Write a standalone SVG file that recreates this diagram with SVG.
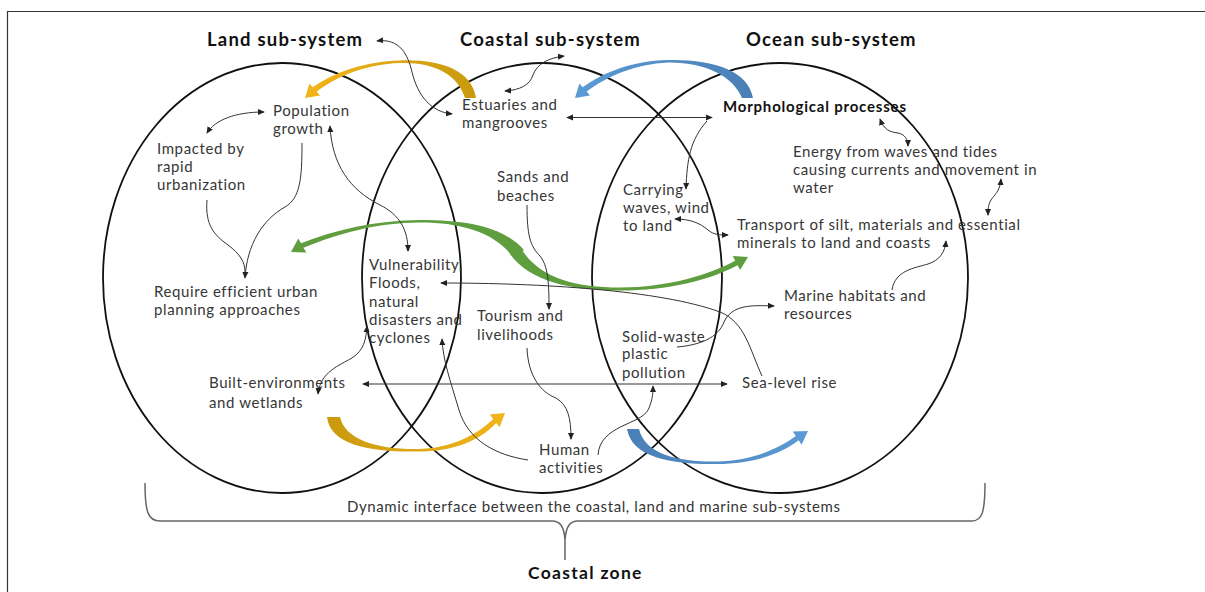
<svg xmlns="http://www.w3.org/2000/svg" width="1205" height="592" viewBox="0 0 1205 592">
<defs>
<style>
.t{font-family:Lato,"Liberation Sans",sans-serif;font-size:15px;letter-spacing:0.6px;fill:#363636}
.b{font-family:Lato,"Liberation Sans",sans-serif;font-weight:bold;fill:#111}
.ti{font-size:18.5px;letter-spacing:1.2px}
.c{fill:none;stroke:#111;stroke-width:1.8}
.k{fill:none;stroke:#333;stroke-width:1}
.ka{fill:none;stroke:#333;stroke-width:1;marker-end:url(#ah)}
.kb{fill:none;stroke:#333;stroke-width:1;marker-start:url(#ah);marker-end:url(#ah)}
</style>
<marker id="ah" viewBox="0 0 8 8" refX="7" refY="4" markerWidth="7" markerHeight="7" markerUnits="userSpaceOnUse" orient="auto-start-reverse"><path d="M0,0.5 L8,4 L0,7.5 z" fill="#222"/></marker>
<linearGradient id="gGold" x1="0" y1="0" x2="1" y2="0"><stop offset="0" stop-color="#F2B51A"/><stop offset="1" stop-color="#C99A0E"/></linearGradient>
<linearGradient id="gGold2" x1="0" y1="0" x2="1" y2="0"><stop offset="0" stop-color="#C99A0E"/><stop offset="1" stop-color="#F2B51A"/></linearGradient>
<linearGradient id="gBlue" x1="0" y1="0" x2="1" y2="0"><stop offset="0" stop-color="#5B9BD5"/><stop offset="1" stop-color="#4A7FB5"/></linearGradient>
<linearGradient id="gBlue2" x1="0" y1="0" x2="1" y2="0"><stop offset="0" stop-color="#4A7FB5"/><stop offset="1" stop-color="#5B9BD5"/></linearGradient>
</defs>
<rect width="1205" height="592" fill="#fff"/>
<path d="M7.5,592 V11.5 H1205" fill="none" stroke="#333" stroke-width="1.2"/>

<g id="circles">
<ellipse id="land-circle" class="c" cx="282" cy="278" rx="179" ry="215"/>
<ellipse id="coastal-circle" class="c" cx="542" cy="278" rx="180" ry="215"/>
<ellipse id="ocean-circle" class="c" cx="780" cy="278" rx="188" ry="215"/>
</g>

<g id="flow-arrows">
<path id="gold-top" fill="url(#gGold)" d="M476,98 C472,70 440,59 400,60.5 C365,61.5 335,72 312.7,87.2 L309.4,83.4 L305,98 L320,95.4 L316.7,91.6 C337,76 367,64 400,63 C435,62 458,75 465,98 Z"/>
<path id="blue-top" fill="url(#gBlue)" d="M753,98 C748,70 712,59 668,60 C632,61 604,72 582.7,87.2 L579.4,83.4 L575,98 L590,95.4 L586.7,91.6 C607,76 636,64 668,62.5 C705,62 733,76 742,98 Z"/>
<path id="green-left" fill="#5E9E3E" d="M524,250 C505,228 470,220 420,220 C375,220.5 335,230 301,243.3 L298.3,238.5 L291,252 L306.3,252.5 L303.5,247.7 C337,234 377,222.5 420,222.5 C462,222.5 495,233 512,256 Z"/>
<path id="green-right" fill="#5E9E3E" d="M510,254 C530,282 572,290.5 620,290.5 C668,290.5 710,280 737.6,265.2 L740.1,270.1 L748,257 L732.7,255.9 L735.2,260.8 C708,275 668,287.5 620,287.5 C575,287.5 540,278 522,250 Z"/>
<path id="gold-bottom" fill="url(#gGold2)" d="M327,417 C330,445 370,452 417,451.5 C455,451.5 480,440 496.2,422.9 L499.6,427.2 L505,413 L489.8,414.6 L493.2,418.9 C478,434 452,448.5 417,449 C378,449.5 345,440 340,417 Z"/>
<path id="blue-bottom" fill="url(#gBlue2)" d="M627,429 C632,458 672,464.5 717,464 C755,463.5 783,453 798.6,440.3 L801.6,444.8 L808,431 L792.8,431.6 L795.8,436.1 C780,448 752,461 717,461.5 C680,462 645,455 639,429 Z"/>
</g>

<g id="connectors">
<path class="kb" d="M377,41 C400,38 408,55 412,72 C418,97 432,112 452,114"/>
<path class="kb" d="M505,91 C520,90 530,85 533,75 C537,64 548,58 564,56"/>
<path class="kb" d="M207,133 C215,120 235,112 264,112"/>
<path class="kb" d="M330,126 C332,165 350,190 380,205 C400,215 408,230 408,251"/>
<path class="ka" d="M302,143 C302,180 300,198 285,207 C262,220 247,245 245,278"/>
<path class="k" d="M207,200 C205,225 214,235 228,245 C240,254 245,262 245,272"/>
<path class="kb" d="M318,394 C320,372 340,365 352,358 C364,350 366,340 367,326"/>
<path class="kb" d="M363,384 H727"/>
<path class="kb" d="M567,117.5 H712"/>
<path class="ka" d="M707,121 C690,140 687,160 686,189"/>
<path class="kb" d="M675,219 C690,219 700,223 708,230 C714,235 720,235 728,235"/>
<path class="kb" d="M880,119 C884,130 890,132 898,133 C905,134 908,140 908,146"/>
<path class="kb" d="M1001,179 C1000,192 994,195 991,200 C988,205 988,210 988,215"/>
<path class="ka" d="M892,290 C895,270 915,268 928,264 C940,260 945,252 946,241"/>
<path class="ka" d="M677,347 C700,345 718,338 724,322 C732,305 750,305 774,306"/>
<path class="ka" d="M762,376 C750,350 745,322 720,312 C660,290 540,283 441,283"/>
<path class="ka" d="M527,205 C527,235 530,246 540,256 C548,266 549,282 549,309"/>
<path class="ka" d="M527,348 C528,375 540,392 556,398 C568,405 571,418 571,439"/>
<path class="ka" d="M598,455 C600,425 640,425 648,410 C652,402 653,395 653,386"/>
<path class="ka" d="M528,460 C495,455 468,440 459,410 C450,380 443,360 442,339"/>
<path id="brace" fill="none" stroke="#666" stroke-width="1.5" d="M145,483 C145,512 148,521 160,521 L552,521 C560,521 564,526 565,540 L565,560 M565,540 C566,526 570,521 578,521 L972,521 C982,521 985,512 985,483"/>
</g>

<g id="titles">
<text id="land-title" class="b ti" x="207" y="46">Land sub-system</text>
<text id="coastal-title" class="b ti" x="460" y="46">Coastal sub-system</text>
<text id="ocean-title" class="b ti" x="746" y="46">Ocean sub-system</text>
<text id="coastal-zone" class="b" x="528" y="579" font-size="17.5" letter-spacing="1.3">Coastal zone</text>
</g>

<g id="n-population"><text class="t" x="273" y="116">Population</text><text class="t" x="273" y="134">growth</text></g>
<g id="n-impacted"><text class="t" x="157" y="154">Impacted by</text><text class="t" x="157" y="172">rapid</text><text class="t" x="157" y="190">urbanization</text></g>
<g id="n-require"><text class="t" x="154" y="297">Require efficient urban</text><text class="t" x="154" y="315">planning approaches</text></g>
<g id="n-built"><text class="t" x="209" y="388">Built-environments</text><text class="t" x="209" y="408">and wetlands</text></g>
<g id="n-estuaries"><text class="t" x="462" y="110">Estuaries and</text><text class="t" x="462" y="128">mangrooves</text></g>
<g id="n-sands"><text class="t" x="497" y="182">Sands and</text><text class="t" x="497" y="201">beaches</text></g>
<g id="n-vulnerability"><text class="t" x="369" y="270">Vulnerability,</text><text class="t" x="369" y="288">Floods,</text><text class="t" x="369" y="307">natural</text><text class="t" x="369" y="325">disasters and</text><text class="t" x="369" y="343">cyclones</text></g>
<g id="n-tourism"><text class="t" x="477" y="321">Tourism and</text><text class="t" x="477" y="340">livelihoods</text></g>
<g id="n-carrying"><text class="t" x="623" y="195">Carrying</text><text class="t" x="623" y="213">waves, wind</text><text class="t" x="623" y="231">to land</text></g>
<g id="n-morph"><text class="b" x="723" y="112" font-size="15" letter-spacing="0.8" fill="#222">Morphological processes</text></g>
<g id="n-energy"><text class="t" x="793" y="157">Energy from waves and tides</text><text class="t" x="793" y="175">causing currents and movement in</text><text class="t" x="793" y="193">water</text></g>
<g id="n-transport"><text class="t" x="737" y="230">Transport of silt, materials and essential</text><text class="t" x="737" y="248">minerals to land and coasts</text></g>
<g id="n-marine"><text class="t" x="784" y="301">Marine habitats and</text><text class="t" x="784" y="319">resources</text></g>
<g id="n-solid"><text class="t" x="622" y="342">Solid-waste</text><text class="t" x="622" y="359">plastic</text><text class="t" x="622" y="378">pollution</text></g>
<g id="n-sealevel"><text class="t" x="742" y="388">Sea-level rise</text></g>
<g id="n-human"><text class="t" x="539" y="455">Human</text><text class="t" x="539" y="473">activities</text></g>
<g id="n-dynamic"><text class="t" x="347" y="512">Dynamic interface between the coastal, land and marine sub-systems</text></g>
</svg>
